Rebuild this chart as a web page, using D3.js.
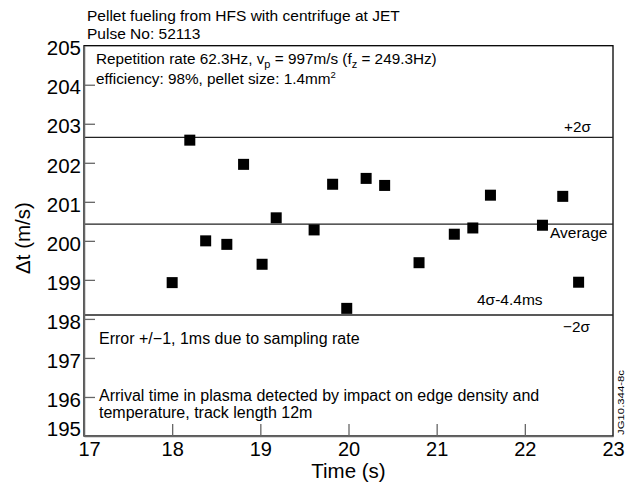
<!DOCTYPE html>
<html><head><meta charset="utf-8">
<script src="https://cdn.jsdelivr.net/npm/d3@7"></script>
<style>body{margin:0;background:#fff}svg{display:block}text{font-family:"Liberation Sans",Arial,Helvetica,sans-serif;fill:#000}</style>
</head><body>
<svg id="c" width="633" height="491"></svg>
<script>
// Data
const times = [18.0, 18.2, 18.38, 18.62, 18.81, 19.02, 19.18, 19.61, 19.82, 19.98, 20.2, 20.41, 20.8, 21.2, 21.41, 21.61, 22.2, 22.43, 22.61];
const deltaT = [198.93, 202.58, 200.0, 199.91, 201.96, 199.4, 200.59, 200.28, 201.45, 198.27, 201.6, 201.42, 199.44, 200.17, 200.33, 201.17, 200.4, 201.14, 198.94];
const refLevels = [202.65, 200.43, 198.1];
const xTicks = [17, 18, 19, 20, 21, 22, 23];
const yTicks = [195, 196, 197, 198, 199, 200, 201, 202, 203, 204, 205];

const svg = d3.select("#c");
const L = 84, R = 613, T = 45.7, B = 436;
const x = d3.scaleLinear().domain([17, 23]).range([L, R]);
const y = d3.scaleLinear().domain([195, 205]).range([B, T]);

// frame
svg.append("rect").attr("x", L).attr("y", T).attr("width", R - L).attr("height", B - T)
  .attr("fill", "none").attr("stroke", "#000").attr("stroke-width", 1.3);

// reference lines
svg.selectAll("line.ref").data(refLevels).join("line").attr("class", "ref")
  .attr("x1", L).attr("x2", R).attr("y1", d => y(d)).attr("y2", d => y(d))
  .attr("stroke", "#222").attr("stroke-width", 1.3);

// axes
const ax = svg.append("g").attr("transform", `translate(0,${B})`)
  .call(d3.axisBottom(x).tickValues(xTicks).tickFormat(d3.format("d")).tickSizeInner(-12).tickSizeOuter(0).tickPadding(6));
const ay = svg.append("g").attr("transform", `translate(${L},0)`)
  .call(d3.axisLeft(y).tickValues(yTicks).tickFormat(d3.format("d")).tickSizeInner(-11).tickSizeOuter(0).tickPadding(3));
[ax, ay].forEach(g => {
  g.select(".domain").attr("stroke", "#666").attr("stroke-width", 1.5);
  g.selectAll(".tick line").attr("stroke", "#666").attr("stroke-width", 1.3);
  g.selectAll(".tick text").attr("fill", "#000")
   .attr("font-family", '"Liberation Sans",Arial,sans-serif');
});
ay.selectAll(".tick text").attr("font-size", 20.5).attr("dy", d => d === 195 ? "-0.02em" : "0.45em");
ax.selectAll(".tick text").attr("font-size", 20).attr("dx", d => d === 17 ? 5 : 0);
ax.selectAll(".tick").filter(d => d === 17 || d === 23).select("line").remove();
ay.selectAll(".tick").filter(d => d === 195 || d === 205).select("line").remove();

// points
const s = 11;
svg.selectAll("rect.pt").data(times.map((t, i) => [t, deltaT[i]])).join("rect").attr("class", "pt")
  .attr("x", d => x(d[0]) - s / 2).attr("y", d => y(d[1]) - s / 2)
  .attr("width", s).attr("height", s).attr("fill", "#000");

// axis titles
svg.append("text").attr("x", x(20)).attr("y", 478).attr("text-anchor", "middle")
  .attr("font-size", 20.5).text("Time (s)");
svg.append("text").attr("transform", `translate(30,238) rotate(-90)`).attr("text-anchor", "middle")
  .attr("font-size", 20.5).text("\u0394t (m/s)");

// titles
const txt = (xx, yy, str, fs, anchor) => svg.append("text").attr("x", xx).attr("y", yy)
  .attr("font-size", fs).attr("text-anchor", anchor || "start").text(str);
txt(87, 20.5, "Pellet fueling from HFS with centrifuge at JET", 15.5);
txt(87, 39, "Pulse No: 52113", 15.5);

const t1 = svg.append("text").attr("x", 96).attr("y", 63.5).attr("font-size", 15.3);
t1.append("tspan").text("Repetition rate 62.3Hz, v");
t1.append("tspan").attr("font-size", 11).attr("dy", 4).text("p");
t1.append("tspan").attr("dy", -4).text(" = 997m/s (f");
t1.append("tspan").attr("font-size", 11).attr("dy", 4).text("z");
t1.append("tspan").attr("dy", -4).text(" = 249.3Hz)");
const t2 = svg.append("text").attr("x", 96).attr("y", 83.5).attr("font-size", 15.3);
t2.append("tspan").text("efficiency: 98%, pellet size: 1.4mm");
t2.append("tspan").attr("font-size", 9.5).attr("dy", -6).text("2");

txt(591, 131.7, "+2\u03c3", 15.3, "end");
txt(550, 238, "Average", 15.5);
txt(477, 305, "4\u03c3-4.4ms", 15.5);
txt(590, 331.7, "\u22122\u03c3", 15.3, "end");
txt(99, 344, "Error +/\u22121, 1ms due to sampling rate", 16);
txt(99, 401.3, "Arrival time in plasma detected by impact on edge density and", 16);
txt(99, 418, "temperature, track length 12m", 16);

svg.append("text").attr("transform", "translate(624,435) rotate(-90)").attr("font-size", 8.5)
  .attr("textLength", 65).attr("lengthAdjust", "spacingAndGlyphs").text("JG10.344-8c");
</script>
</body></html>
